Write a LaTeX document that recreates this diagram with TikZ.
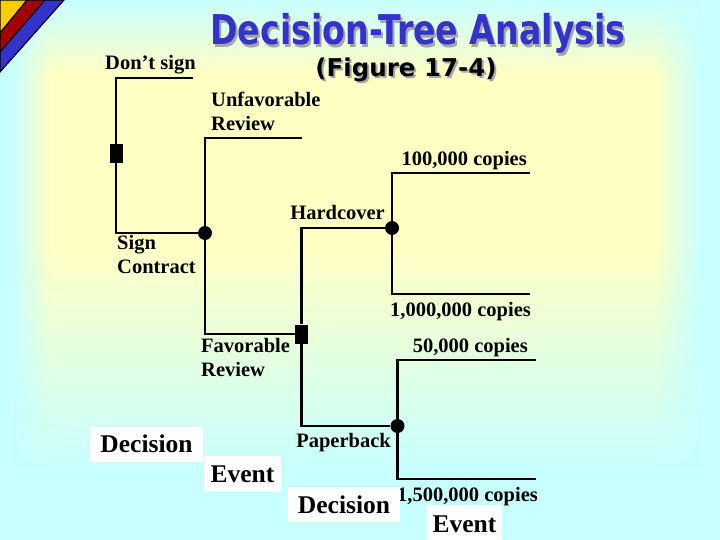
\documentclass[tikz,border=0pt]{standalone}
\usepackage{fontspec}
\setmainfont{Liberation Serif}
\newfontfamily\titlefont{DejaVu Sans}
\usetikzlibrary{fadings}
\definecolor{bgc}{RGB}{200,255,255}
\definecolor{bgy}{RGB}{255,255,195}
\definecolor{ttlblue}{RGB}{51,51,204}
\definecolor{stripeY}{RGB}{255,204,0}
\definecolor{stripeR}{RGB}{160,0,0}
\definecolor{stripeB}{RGB}{51,51,204}
\tikzfading[name=fadeLR, left color=transparent!0, right color=transparent!100]
\tikzfading[name=fadeRL, left color=transparent!100, right color=transparent!0]
\newcommand{\shadowtext}[3]{\makebox[0pt][l]{\hspace*{#1}\raisebox{-#1}{\textcolor{gray!70}{#3}}}\textcolor{#2}{#3}}
\begin{document}
\begin{tikzpicture}[x=1pt,y=1pt,
  lbl/.style={font=\fontsize{20.5}{24}\selectfont\bfseries, inner sep=0pt},
  boxlbl/.style={fill=white, inner sep=0pt, font=\fontsize{25.5}{28}\selectfont\bfseries},
  tree/.style={line width=2.2pt},
  leaf/.style={line width=2.6pt},
  decsq/.style={rectangle, fill=black, draw=none, minimum width=13pt, minimum height=19pt, inner sep=0pt},
  evdot/.style={circle, fill=black, minimum size=14pt, inner sep=0pt},
  stripe/.style={draw=black, line width=1.2pt, line join=miter}]

\useasboundingbox (0,0) rectangle (720,-540);
% background
\fill[bgc] (0,0) rectangle (720,-540);
\shade[top color=bgc, bottom color=bgy] (0,0) rectangle (720,-75);
\fill[bgy] (0,-75) rectangle (720,-245);
\shade[top color=bgy, bottom color=bgc] (0,-245) rectangle (720,-470);
\fill[bgc] (0,0) rectangle (12,-540);
\fill[bgc, path fading=fadeLR] (12,0) rectangle (50,-540);
\fill[bgc, path fading=fadeRL] (655,0) rectangle (702,-540);
\fill[bgc] (702,0) rectangle (720,-540);

% corner stripes
\filldraw[stripe, fill=stripeB] (0,0) -- (64,0) -- (0,-72) -- cycle;
\filldraw[stripe, fill=stripeR] (0,0) -- (45,0) -- (0,-52) -- cycle;
\filldraw[stripe, fill=stripeY] (0,0) -- (27,0) -- (0,-33) -- cycle;

% title
\node[anchor=base, inner sep=0pt] (title) at (418,-45)
  {\titlefont\bfseries\fontsize{41}{44}\selectfont\scalebox{0.81}[1]{\shadowtext{2.5pt}{ttlblue}{Decision-Tree Analysis}}};
\node[anchor=base, inner sep=0pt] (sub) at (406,-77)
  {\titlefont\bfseries\fontsize{24.5}{28}\selectfont\shadowtext{2pt}{black}{(Figure 17-4)}};

% tree nodes
\coordinate (dont) at (193,-78);
\coordinate (unf) at (302,-138);
\node[decsq] (d1) at (116,-153.5) {};
\node[evdot] (e1) at (205,-233) {};
\node[decsq] (d2) at (301.5,-334) {};
\node[evdot] (e2) at (392,-228) {};
\node[evdot] (e3) at (397.5,-426) {};
\coordinate (hc1) at (530,-173);
\coordinate (hc2) at (530,-294);
\coordinate (pb1) at (536,-360);
\coordinate (pb2) at (536,-479);

% connectors
\draw[tree] (d1) |- (dont);
\draw[tree] (d1) |- (e1);
\draw[tree] (unf) -| (e1);
\draw[tree] (e1) |- (d2);
\draw[tree] (e2) -| (d2);
\draw[tree] (e3) -| (d2);
\draw[leaf] (hc1) -| (e2);
\draw[leaf] (hc2) -| (e2);
\draw[leaf] (pb1) -| (e3);
\draw[leaf] (pb2) -| (e3);

% labels
\node[lbl, anchor=base west] (ldont) at (105,-70) {Don’t sign};
\node[lbl, anchor=north west, align=left] (lunf) at (211,-92) {Unfavorable\\Review};
\node[lbl, anchor=base east] (l100) at (527,-166) {100,000 copies};
\node[lbl, anchor=base east] (lhard) at (385,-220) {Hardcover};
\node[lbl, anchor=north west, align=left] (lsign) at (117,-235) {Sign\\Contract};
\node[lbl, anchor=base west] (l1m) at (390,-316) {1,000,000 copies};
\node[lbl, anchor=north west, align=left] (lfav) at (201,-338) {Favorable\\Review};
\node[lbl, anchor=base east] (l50) at (528,-352) {50,000 copies};
\node[lbl, anchor=base east] (lpaper) at (391,-447) {Paperback};
\node[lbl, anchor=base west] (l15m) at (397,-501) {1,500,000 copies};

% legend boxes
\node[boxlbl, minimum width=113pt, minimum height=35pt] (bdec1) at (146.5,-444) {Decision};
\node[boxlbl, minimum width=77pt, minimum height=36pt] (bev1) at (242.5,-474) {Event};
\node[boxlbl, minimum width=112pt, minimum height=35pt] (bdec2) at (344,-504.5) {Decision};
\node[boxlbl, minimum width=75pt, minimum height=38pt] (bev2) at (464.5,-524) {Event};
\end{tikzpicture}
\end{document}
